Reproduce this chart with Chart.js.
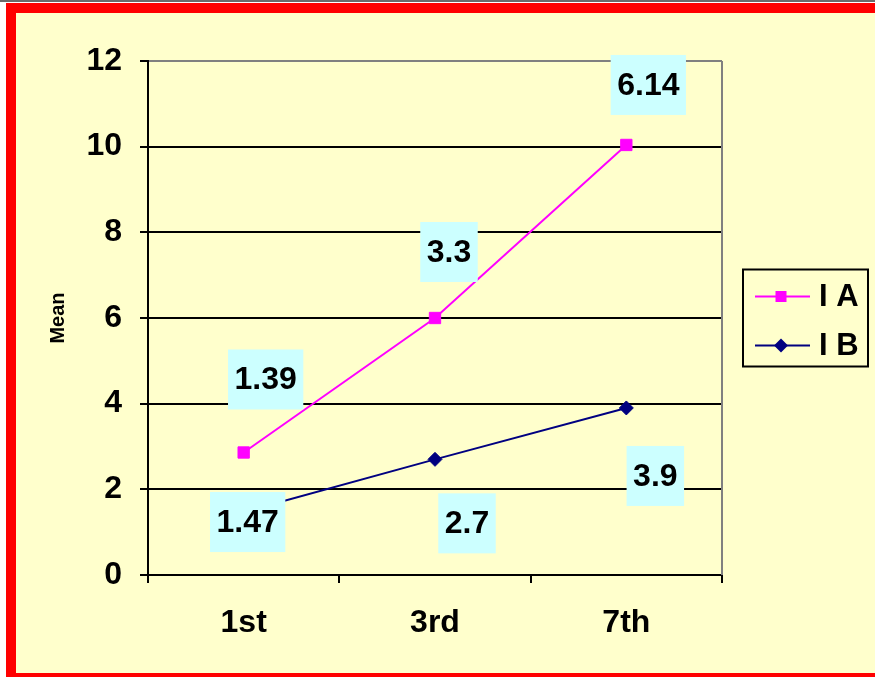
<!DOCTYPE html>
<html>
<head>
<meta charset="utf-8">
<script src="https://cdn.jsdelivr.net/npm/chart.js@4.4.0/dist/chart.umd.min.js"></script>
<style>
html, body { margin: 0; padding: 0; background: #fff; overflow: hidden; width: 875px; height: 677px; }
#strip { position: absolute; left: 0; top: 0; width: 875px; height: 2px; background: #6b6b6b; }
#frame { position: absolute; left: 6px; top: 3px; width: 900px; height: 660px;
  border-left: 10px solid #f00; border-top: 10px solid #f00; border-bottom: 10px solid #f00; background: #ffffcc; }
#chart { position: absolute; left: 0; top: 0; }
</style>
</head>
<body>
<div id="strip"></div>
<div id="frame"><canvas id="chart" width="859" height="660"></canvas></div>
<script>
const categories = ['1st', '3rd', '7th'];
const seriesIA = [1.39, 3.3, 6.14];
const seriesIB = [1.47, 2.7, 3.9];
const yTicks = [0, 2, 4, 6, 8, 10, 12];

// where Excel put each value box, relative to its point (px)
const labelOffsets = {
  'I A': [[22, -73], [14, -66], [22, -60]],
  'I B': [[4, 10], [32, 64], [29, 68]]
};

const bigFont = '"Liberation Sans", Arial, sans-serif';

const labelBoxes = {
  id: 'labelBoxes',
  afterDatasetsDraw(chart) {
    const ctx = chart.ctx;
    ctx.save();
    ctx.font = 'bold 32px ' + bigFont;
    ctx.textAlign = 'center';
    ctx.textBaseline = 'middle';
    chart.data.datasets.forEach((ds, i) => {
      chart.getDatasetMeta(i).data.forEach((pt, j) => {
        const text = String(ds.data[j]);
        const off = labelOffsets[ds.label][j];
        const cx = pt.x + off[0], cy = pt.y + off[1];
        const w = ctx.measureText(text).width + 13, h = 60;
        ctx.fillStyle = '#ccffff';
        ctx.fillRect(cx - w / 2, cy - h / 2, w, h);
        ctx.fillStyle = '#000';
        ctx.fillText(text, cx, cy + 1);
      });
    });
    ctx.restore();
  }
};

const plotBorder = {
  id: 'plotBorder',
  beforeDatasetsDraw(chart) {
    const {ctx, chartArea} = chart;
    ctx.save();
    ctx.strokeStyle = '#808080';
    ctx.lineWidth = 2;
    ctx.beginPath();
    ctx.moveTo(chartArea.right, chartArea.top);
    ctx.lineTo(chartArea.right, chartArea.bottom);
    ctx.stroke();
    ctx.restore();
  }
};

const boxLegend = {
  id: 'boxLegend',
  afterDraw(chart) {
    const {ctx, chartArea} = chart;
    const w = 125, h = 97;
    const left = chartArea.right + 21;
    const top = (chartArea.top + chartArea.bottom) / 2 - h / 2;
    ctx.save();
    ctx.strokeStyle = '#000';
    ctx.lineWidth = 2;
    ctx.strokeRect(left, top, w, h);
    ctx.font = 'bold 31px ' + bigFont;
    ctx.textBaseline = 'middle';
    ctx.textAlign = 'left';
    // IA first, like the original
    [1, 0].forEach((idx, row) => {
      const ds = chart.data.datasets[idx];
      const y = top + 27 + row * 49;
      const mx = left + 38;
      ctx.strokeStyle = ds.borderColor;
      ctx.fillStyle = ds.backgroundColor;
      ctx.lineWidth = 2;
      ctx.beginPath();
      ctx.moveTo(left + 12, y);
      ctx.lineTo(left + 67, y);
      ctx.stroke();
      ctx.beginPath();
      if (ds.pointStyle === 'rect') {
        ctx.rect(mx - 5.5, y - 5.5, 11, 11);
      } else {
        ctx.moveTo(mx, y - 7);
        ctx.lineTo(mx + 7, y);
        ctx.lineTo(mx, y + 7);
        ctx.lineTo(mx - 7, y);
        ctx.closePath();
      }
      ctx.fill();
      ctx.fillStyle = '#000';
      ctx.fillText(ds.label, left + 76, y + 1);
    });
    ctx.restore();
  }
};

new Chart(document.getElementById('chart'), {
  type: 'line',
  data: {
    labels: categories,
    datasets: [{
      label: 'I B',
      data: seriesIB,
      borderColor: '#000080',
      backgroundColor: '#000080',
      borderWidth: 2,
      pointStyle: 'rectRot',
      pointRadius: 7,
      pointBorderWidth: 1,
      fill: false,
      tension: 0
    }, {
      label: 'I A',
      data: seriesIA,
      borderColor: '#ff00ff',
      backgroundColor: '#ff00ff',
      borderWidth: 2,
      pointStyle: 'rect',
      pointRadius: 8,
      pointBorderWidth: 1,
      fill: false,
      tension: 0
    }]
  },
  options: {
    responsive: false,
    animation: false,
    devicePixelRatio: 1,
    layout: { padding: { left: 0, top: 48, right: 153, bottom: 0 } },
    plugins: {
      legend: { display: false },
      tooltip: { enabled: false }
    },
    scales: {
      x: {
        offset: true,
        grid: { offset: true, drawOnChartArea: false, drawTicks: true, tickLength: 8, color: '#000', lineWidth: 2 },
        border: { color: '#000', width: 2 },
        ticks: { color: '#000', font: { family: bigFont, size: 32, weight: 'bold' }, padding: 21, maxRotation: 0 },
        afterFit(s) { s.height = 98; }
      },
      y: {
        stacked: true,
        min: yTicks[0],
        max: yTicks[yTicks.length - 1],
        ticks: { stepSize: yTicks[1] - yTicks[0], color: '#000', font: { family: bigFont, size: 32, weight: 'bold' }, padding: 18 },
        grid: {
          color: c => (c.tick && c.tick.value === 12 ? '#808080' : '#000'),
          tickColor: '#000',
          lineWidth: 2,
          tickLength: 8
        },
        border: { color: '#000', width: 2 },
        title: { display: true, text: 'Mean', color: '#000', font: { family: bigFont, size: 20, weight: 'bold' }, padding: { top: 30, bottom: 0 } },
        afterFit(s) { s.width = 132; }
      }
    }
  },
  plugins: [plotBorder, labelBoxes, boxLegend]
});
</script>
</body>
</html>
